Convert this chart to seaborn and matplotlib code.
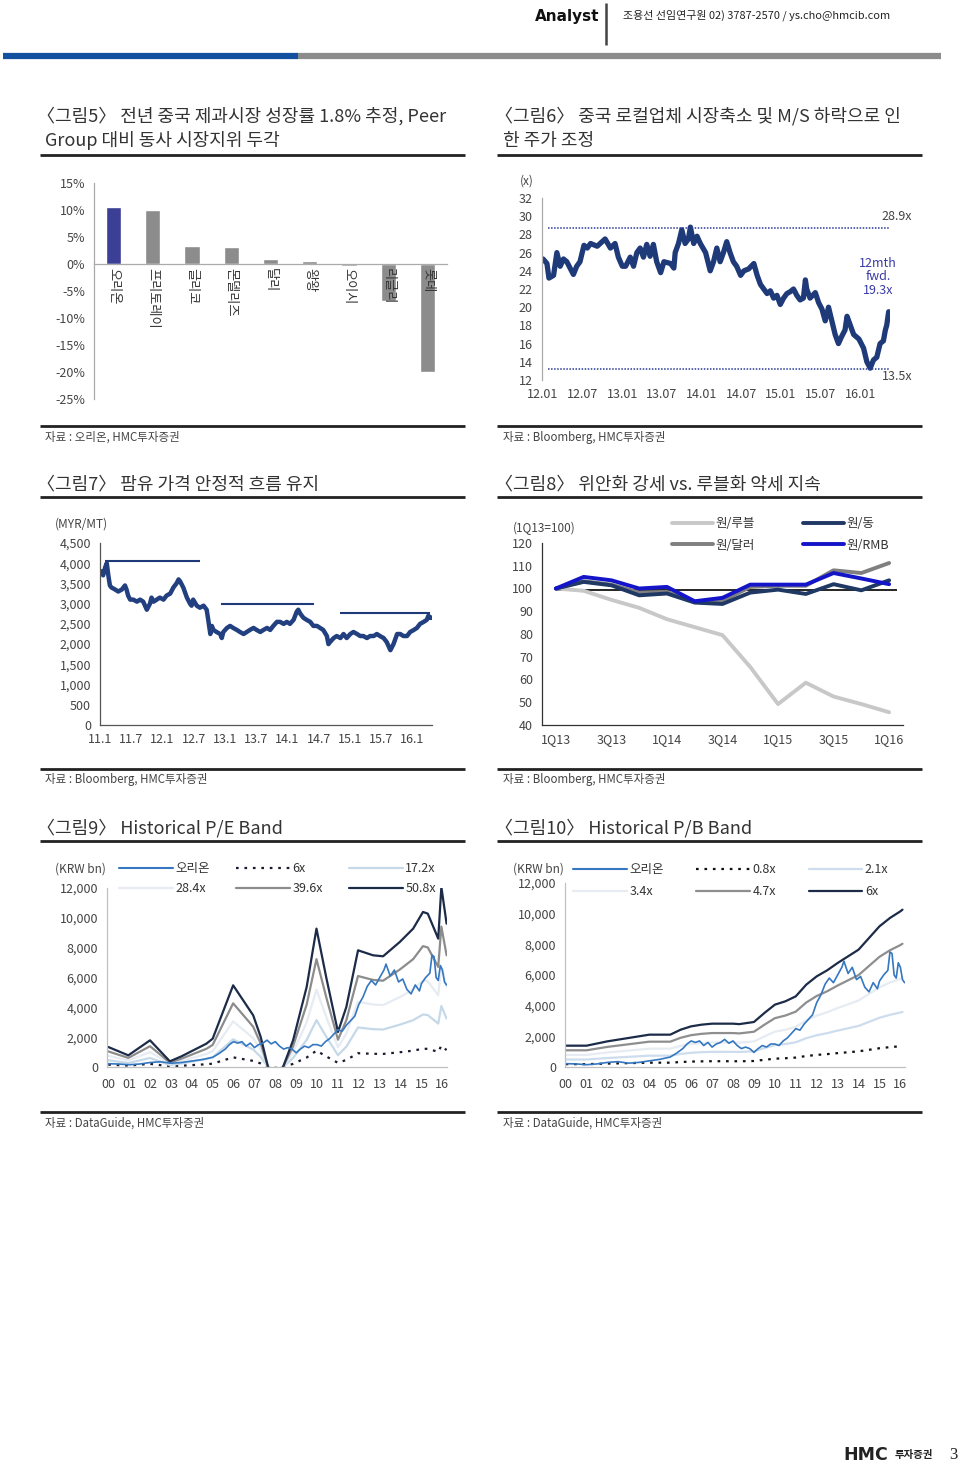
import numpy as np
import pandas as pd
import matplotlib
matplotlib.use('Agg')
import matplotlib.pyplot as plt
from matplotlib.lines import Line2D
import seaborn as sns

# ---------------- data ----------------
# Fig 5: peer growth
peer_names = ['오리온', '프리토레이', '글리코', '몬델리즈', '달리', '왕왕', '오이시', '리글리', '롯데']
peer_growth = [10.5, 10.0, 3.3, 3.1, 0.9, 0.5, -0.3, -6.9, -20.0]
peer_colors = ['#3c3f96', '#8c8c8c', '#8c8c8c', '#8c8c8c', '#8c8c8c', '#8c8c8c', '#8c8c8c', '#8c8c8c', '#8c8c8c']

# Fig 6: 12mth fwd P/E (months since 2012.01)
pe_month = [0.0, 0.6, 0.9, 1.6, 2.1, 2.6, 3.1, 3.6, 4.1, 4.6,
            5.1, 5.6, 6.2, 6.7, 7.2, 8.2, 9.4, 10.2, 10.9, 11.4,
            12.0, 12.5, 13.2, 13.7, 14.2, 14.7, 15.2, 15.7, 16.2, 16.7,
            17.2, 17.8, 18.3, 19.3, 19.8, 20.0, 20.5, 21.0, 21.5, 22.0,
            22.3, 22.8, 23.3, 23.8, 24.6, 25.3, 25.8, 26.3, 26.8, 27.3,
            27.8, 28.3, 28.8, 29.3, 29.9, 30.4, 31.1, 31.9, 32.4, 32.9,
            33.4, 33.9, 34.4, 34.9, 35.4, 35.9, 36.4, 36.9, 37.4, 37.9,
            38.4, 38.9, 39.4, 39.7, 39.9, 40.4, 41.2, 41.7, 42.2, 42.7,
            43.2, 43.7, 44.2, 44.7, 45.2, 45.7, 46.0, 46.5, 47.0, 47.8,
            48.5, 49.0, 49.5, 50.0, 50.5, 51.0, 51.5, 51.8, 52.0, 52.3]
pe_value = [25.3, 24.8, 23.2, 23.5, 26.0, 24.5, 25.3, 25.0, 24.3, 23.6,
            24.5, 25.0, 26.8, 26.5, 27.0, 26.7, 27.5, 26.5, 27.0, 25.5,
            24.5, 24.5, 25.5, 24.5, 26.0, 26.5, 25.5, 26.9, 25.6, 26.9,
            25.0, 23.8, 25.0, 24.8, 24.3, 26.0, 27.0, 28.5, 27.0, 27.5,
            28.8, 27.0, 27.8, 27.0, 26.0, 24.0, 25.0, 26.5, 25.0, 26.0,
            27.2, 26.0, 25.0, 24.5, 23.5, 24.0, 24.2, 24.8, 23.5, 22.5,
            22.0, 21.5, 21.8, 21.0, 21.3, 20.3, 21.0, 21.5, 21.7, 22.0,
            21.3, 20.8, 21.0, 23.0, 22.0, 21.0, 21.6, 20.5, 19.8, 18.5,
            20.0, 18.5, 17.0, 16.0, 16.8, 17.5, 19.0, 18.0, 17.0, 16.5,
            15.5, 14.0, 13.3, 14.2, 14.5, 16.0, 16.3, 17.5, 18.0, 19.5]
pe_band_levels = [28.7, 13.2]
pe_ticks = ['12.01', '12.07', '13.01', '13.07', '14.01', '14.07', '15.01', '15.07', '16.01']

# Fig 7: palm oil price (months since 2011.1)
palm_month = [0, 0.3, 0.6, 1.0, 1.3, 1.6, 1.9, 2.2, 2.9, 3.5,
              4.2, 4.8, 5.1, 5.4, 5.8, 6.4, 7.1, 7.7, 8.3, 9.0,
              9.6, 9.9, 10.3, 10.9, 11.5, 12.2, 12.8, 13.5, 14.1, 14.7,
              15.1, 15.4, 16.0, 16.7, 17.3, 17.6, 17.9, 18.6, 19.2, 19.9,
              20.5, 20.8, 21.2, 21.5, 21.8, 22.4, 23.1, 23.4, 23.7, 24.4,
              25.0, 25.6, 26.3, 26.9, 27.6, 28.2, 28.8, 29.5, 30.1, 30.8,
              31.4, 32.1, 32.7, 33.3, 34.0, 34.6, 35.3, 35.9, 36.5, 37.2,
              37.8, 38.1, 38.5, 39.1, 39.7, 40.4, 41.0, 41.7, 42.3, 42.9,
              43.6, 43.9, 44.2, 44.9, 45.5, 46.2, 46.8, 47.4, 48.1, 48.7,
              49.4, 50.0, 50.6, 51.3, 51.9, 52.6, 53.2, 53.8, 54.5, 55.1,
              55.8, 56.4, 57.1, 57.7, 58.3, 59.0, 59.6, 60.3, 60.9, 61.5,
              62.2, 62.8, 63.1, 63.5, 63.8]
palm_price = [3750, 3800, 3700, 3900, 4000, 3700, 3450, 3400, 3350, 3300,
              3350, 3450, 3350, 3200, 3100, 3100, 3050, 3100, 3050, 2850,
              3000, 3150, 3050, 3100, 3150, 3100, 3200, 3250, 3400, 3500,
              3600, 3550, 3400, 3150, 3000, 2950, 3100, 2950, 2900, 2950,
              2850, 2600, 2250, 2450, 2350, 2300, 2250, 2150, 2300, 2400,
              2450, 2400, 2350, 2300, 2250, 2300, 2350, 2400, 2350, 2300,
              2350, 2400, 2350, 2450, 2550, 2550, 2500, 2550, 2500, 2600,
              2800, 2850, 2750, 2650, 2600, 2550, 2450, 2450, 2400, 2350,
              2200, 2000, 2050, 2150, 2200, 2150, 2250, 2150, 2250, 2300,
              2250, 2200, 2200, 2150, 2200, 2200, 2250, 2200, 2150, 2050,
              1850, 2000, 2250, 2250, 2200, 2200, 2300, 2350, 2400, 2500,
              2550, 2600, 2700, 2650, 2650]
palm_range_start = [1.0, 23.3, 46.2]
palm_range_end = [19.2, 41.2, 63.5]
palm_range_level = [4050, 3000, 2770]
palm_ticks = ['11.1', '11.7', '12.1', '12.7', '13.1', '13.7', '14.1', '14.7', '15.1', '15.7', '16.1']

# Fig 8: FX index (1Q13=100)
fx_quarters = ['1Q13', '2Q13', '3Q13', '4Q13', '1Q14', '2Q14', '3Q14', '4Q14', '1Q15', '2Q15', '3Q15', '4Q15', '1Q16']
fx_rub = [100, 99, 95, 91.5, 86.5, 83, 79.5, 65.5, 49.2, 58.6, 52.5, 49.2, 45.6]
fx_usd = [100, 103.2, 101.7, 98.2, 98.5, 94.3, 94.5, 100.7, 101.2, 101.2, 108, 106.8, 111.2]
fx_vnd = [100, 102.9, 101.4, 97.0, 97.8, 93.8, 93.2, 98.2, 99.5, 97.6, 101.9, 99.2, 103.6]
fx_rmb = [100, 105.1, 103.6, 100.0, 100.7, 94.4, 95.9, 101.7, 101.7, 101.7, 106.8, 104.4, 101.9]
fx_base = 99.3

# Fig 9/10: Orion market cap (KRW bn)
orion_year = [2000.0, 2000.5, 2001.0, 2001.5, 2002.0, 2002.5, 2003.0, 2003.5, 2004.0, 2004.5,
              2005.0, 2005.3, 2005.6, 2005.8, 2006.0, 2006.2, 2006.4, 2006.6, 2006.8, 2007.0,
              2007.2, 2007.4, 2007.6, 2007.8, 2008.0, 2008.2, 2008.4, 2008.6, 2008.8, 2009.0,
              2009.2, 2009.4, 2009.6, 2009.8, 2010.0, 2010.2, 2010.4, 2010.6, 2010.8, 2011.0,
              2011.2, 2011.4, 2011.6, 2011.8, 2012.0, 2012.2, 2012.4, 2012.6, 2012.8, 2013.0,
              2013.2, 2013.3, 2013.5, 2013.7, 2013.9, 2014.1, 2014.3, 2014.5, 2014.7, 2014.9,
              2015.0, 2015.2, 2015.4, 2015.5, 2015.6, 2015.7, 2015.8, 2015.9, 2016.0, 2016.1, 2016.2]
orion_mcap = [220, 200, 150, 200, 300, 350, 250, 300, 400, 500,
              650, 900, 1200, 1500, 1700, 1600, 1700, 1400, 1600, 1300,
              1500, 1600, 1800, 1550, 1700, 1400, 1200, 1300, 1200, 950,
              1200, 1400, 1300, 1500, 1500, 1400, 1700, 1900, 2200, 2500,
              2400, 2800, 3100, 3400, 4200, 4700, 5400, 5800, 5500, 6000,
              6500, 6900, 6100, 6500, 5700, 5900, 5200, 4900, 5500, 5100,
              5600, 6000, 6300, 7500, 7400, 6000, 5800, 6800, 6500, 5700, 5500]

# P/E band: trailing earnings (KRW bn) x multiple
pe_year = [2000.0, 2000.96, 2002.0, 2002.95, 2003.5, 2004.07, 2004.7, 2005.0, 2005.98, 2006.94,
           2007.3, 2007.65, 2008.0, 2008.37, 2008.85, 2009.5, 2009.97, 2010.45, 2011.0, 2011.4,
           2011.96, 2012.68, 2013.16, 2013.96, 2014.6, 2015.07, 2015.3, 2015.8, 2015.95, 2016.2]
pe_earn = [26.4, 15.4, 35.2, 7.5, 14.0, 22.0, 30.8, 37.4, 107.8, 68.2,
           39.6, 0.0, -10.0, 0.0, 35.2, 105.6, 182.6, 116.6, 46.2, 79.2,
           154.0, 147.4, 146.1, 165.0, 182.6, 204.6, 202.4, 169.4, 237.6, 189.2]
pe_multiples = ['6x', '17.2x', '28.4x', '39.6x', '50.8x']
pe_mult_values = [6, 17.2, 28.4, 39.6, 50.8]

# P/B band: book value (KRW bn) x multiple
pb_year = [2000.0, 2001.0, 2002.0, 2003.0, 2004.0, 2005.0, 2005.5, 2006.0, 2006.5, 2007.0,
           2008.0, 2008.3, 2009.0, 2009.5, 2010.0, 2010.5, 2011.0, 2011.5, 2012.0, 2012.5,
           2013.0, 2013.5, 2014.0, 2014.5, 2015.0, 2015.5, 2016.0, 2016.1]
pb_book = [231.8, 231.8, 279.0, 315.2, 351.5, 351.5, 405.8, 442.0, 460.2, 471.0,
           471.0, 466.0, 489.2, 587.0, 677.5, 713.8, 768.2, 895.0, 985.5, 1050.8,
           1130.5, 1203.0, 1275.3, 1402.2, 1529.0, 1619.7, 1692.2, 1710.2]
pb_multiples = ['0.8x', '2.1x', '3.4x', '4.7x', '6x']
pb_mult_values = [0.8, 2.1, 3.4, 4.7, 6.0]
year_ticks = ['00', '01', '02', '03', '04', '05', '06', '07', '08', '09', '10', '11', '12', '13', '14', '15', '16']

# ---------------- setup ----------------
sns.set_style('white')
plt.rcParams['font.family'] = ['Noto Sans CJK KR', 'DejaVu Sans']
plt.rcParams['axes.unicode_minus'] = False

W, H = 960, 1467
fig = plt.figure(figsize=(9.6, 14.67), dpi=100)
TXT = '#333333'
LBL = '#444444'


def ax_at(x0, y0, x1, y1):
    return fig.add_axes([x0 / W, 1 - y1 / H, (x1 - x0) / W, (y1 - y0) / H])


def ftext(x, y, s, **kw):
    kw.setdefault('color', TXT)
    fig.text(x / W, 1 - y / H, s, **kw)


def fline(x0, x1, y0, y1, color, lw):
    fig.add_artist(Line2D([x0 / W, x1 / W], [1 - y0 / H, 1 - y1 / H], color=color, lw=lw,
                          transform=fig.transFigure, solid_capstyle='butt'))


def style(ax, spine='#999999'):
    for s in ['top', 'right']:
        ax.spines[s].set_visible(False)
    for s in ['left', 'bottom']:
        ax.spines[s].set_color(spine)
        ax.spines[s].set_linewidth(0.9)
    ax.tick_params(labelsize=9, color=spine, labelcolor=LBL, length=3, width=0.8)
    ax.set_facecolor('none')
    ax.set_xlabel('')
    ax.set_ylabel('')


# ---------------- header ----------------
ftext(567, 17, 'Analyst', ha='center', va='center', fontsize=11, fontweight='bold',
      family=['Liberation Sans Narrow', 'DejaVu Sans'], color='#111111')
fline(606, 606, 3, 45, '#444444', 1.8)
ftext(623, 15, '조용선 선임연구원 02) 3787-2570 / ys.cho@hmcib.com', ha='left', va='center',
      fontsize=7.9, color='#222222')
fline(3, 298, 56, 56, '#1450a0', 4.5)
fline(298, 941, 56, 56, '#8c8c8c', 4.5)

# ---------------- titles / separators ----------------
LX0, LX1, RX0, RX1 = 40, 465, 497, 922
TS = 13
TLX, TRX = 37, 495
ftext(TLX, 116, '〈그림5〉 전년 중국 제과시장 성장률 1.8% 추정, Peer', ha='left', va='center', fontsize=TS)
ftext(45, 141, 'Group 대비 동사 시장지위 두각', ha='left', va='center', fontsize=TS)
ftext(TRX, 116, '〈그림6〉 중국 로컬업체 시장축소 및 M/S 하락으로 인', ha='left', va='center', fontsize=TS)
ftext(503, 141, '한 주가 조정', ha='left', va='center', fontsize=TS)
ftext(TLX, 484, '〈그림7〉 팜유 가격 안정적 흐름 유지', ha='left', va='center', fontsize=TS)
ftext(TRX, 484, '〈그림8〉 위안화 강세 vs. 루블화 약세 지속', ha='left', va='center', fontsize=TS)
ftext(TLX, 828, '〈그림9〉 Historical P/E Band', ha='left', va='center', fontsize=TS)
ftext(TRX, 828, '〈그림10〉 Historical P/B Band', ha='left', va='center', fontsize=TS)
for y in [155, 497, 841]:
    fline(LX0, LX1, y, y, '#222222', 2.0)
    fline(RX0, RX1, y, y, '#222222', 2.0)
for y in [426, 769, 1112]:
    fline(LX0, LX1, y, y, '#222222', 2.0)
    fline(RX0, RX1, y, y, '#222222', 2.0)
SS = 8.3
ftext(45, 437, '자료 : 오리온, HMC투자증권', ha='left', va='center', fontsize=SS, color=LBL)
ftext(503, 437, '자료 : Bloomberg, HMC투자증권', ha='left', va='center', fontsize=SS, color=LBL)
ftext(45, 780, '자료 : Bloomberg, HMC투자증권', ha='left', va='center', fontsize=SS, color=LBL)
ftext(503, 780, '자료 : Bloomberg, HMC투자증권', ha='left', va='center', fontsize=SS, color=LBL)
ftext(45, 1123, '자료 : DataGuide, HMC투자증권', ha='left', va='center', fontsize=SS, color=LBL)
ftext(503, 1123, '자료 : DataGuide, HMC투자증권', ha='left', va='center', fontsize=SS, color=LBL)

# ---------------- Fig 5 ----------------
ax5 = ax_at(94, 183, 447, 399)
df5 = pd.DataFrame({'company': peer_names, 'growth': peer_growth})
sns.barplot(data=df5, x='company', y='growth', hue='company', palette=peer_colors, legend=False,
            width=0.39, saturation=1, ax=ax5)
style(ax5, '#aaaaaa')
ax5.set_xlim(-0.5, 8.5)
ax5.set_ylim(-25, 15)
yt = list(range(-25, 16, 5))
ax5.set_yticks(yt)
ax5.set_yticklabels([f'{v}%' for v in yt])
ax5.spines['bottom'].set_position(('data', 0))
ax5.set_xticks(np.arange(0.5, 9, 1))
ax5.set_xticklabels([])
ax5.tick_params(axis='x', direction='out', length=4)
for i, n in enumerate(peer_names):
    ax5.text(i, -0.7, n, rotation=270, ha='center', va='top', fontsize=9.5, color=TXT)

# ---------------- Fig 6 ----------------
ax6 = ax_at(542, 198, 890, 380)
sns.lineplot(x=pe_month, y=pe_value, color='#1f3a78', lw=3.8, ax=ax6)
style(ax6, '#aaaaaa')
ax6.hlines(pe_band_levels, 0.8, 52.3, colors='#2a3a98', linestyles=(0, (1, 1)), lw=1.1)
ax6.set_xlim(-0.15, 52.5)
ax6.set_ylim(12, 32)
ax6.set_yticks(range(12, 33, 2))
ax6.set_xticks(range(0, 49, 6))
ax6.set_xticklabels(pe_ticks)
ax6.spines['bottom'].set_visible(False)
ax6.tick_params(axis='x', length=0, pad=6)
ftext(527, 181, '(x)', ha='center', va='center', fontsize=8.5, color=LBL)
ftext(897, 217, '28.9x', ha='center', va='center', fontsize=9, color=LBL)
ftext(897, 376, '13.5x', ha='center', va='center', fontsize=9, color=LBL)
ftext(878, 277, '12mth\nfwd.\n19.3x', ha='center', va='center', fontsize=9, color='#3a3aa8',
      linespacing=1.05, multialignment='center')

# ---------------- Fig 7 ----------------
ax7 = ax_at(100, 543, 432, 725)
sns.lineplot(x=palm_month, y=palm_price, color='#22407f', lw=3.2, ax=ax7)
style(ax7, '#555555')
for m0, m1, v in zip(palm_range_start, palm_range_end, palm_range_level):
    ax7.hlines(v, m0, m1, colors='#1f3a78', lw=1.5)
ax7.set_xlim(0, 63.8)
ax7.set_ylim(0, 4500)
ax7.set_yticks(range(0, 4501, 500))
ax7.set_yticklabels([f'{v:,}' for v in range(0, 4501, 500)])
ax7.set_xticks(range(0, 61, 6))
ax7.set_xticklabels(palm_ticks)
ax7.tick_params(axis='x', direction='inout', length=4)
ftext(55, 524, '(MYR/MT)', ha='left', va='center', fontsize=8.5, color=LBL)

# ---------------- Fig 8 ----------------
ax8 = ax_at(542, 543, 903, 725)
fx_series = {'원/루블': fx_rub, '원/달러': fx_usd, '원/동': fx_vnd, '원/RMB': fx_rmb}
fx_colors = {'원/루블': '#c8c8c8', '원/달러': '#7f7f7f', '원/동': '#1f3864', '원/RMB': '#1414c8'}
df8 = pd.DataFrame([(i, k, v) for k, vals in fx_series.items() for i, v in enumerate(vals)],
                   columns=['q', 'series', 'value'])
ax8.hlines(fx_base, 0, 12.3, colors='black', lw=1.2, zorder=1.5)
sns.lineplot(data=df8, x='q', y='value', hue='series', palette=fx_colors, lw=2.8, legend=False, ax=ax8)
style(ax8, '#333333')
ax8.set_xlim(-0.5, 12.5)
ax8.set_ylim(40, 120)
ax8.set_yticks(range(40, 121, 10))
ax8.set_xticks(range(0, 13, 2))
ax8.set_xticklabels(fx_quarters[::2])
ax8.set_xticks(np.arange(0.5, 13, 1), minor=True)
ax8.tick_params(axis='x', which='major', length=0, pad=6)
ax8.tick_params(axis='x', which='minor', direction='in', length=4, color='#333333')
h8 = [Line2D([], [], color=fx_colors[k], lw=2.8) for k in ['원/루블', '원/달러', '원/동', '원/RMB']]
ax8.legend(h8, ['원/루블', '원/달러', '원/동', '원/RMB'], ncol=2, loc='upper left',
           bbox_to_anchor=(672 / W, 1 - 517 / H), bbox_transform=fig.transFigure, frameon=False,
           fontsize=9, handlelength=3.3, handletextpad=0.2, columnspacing=3.8, labelspacing=0.7,
           borderaxespad=0, borderpad=0, labelcolor=TXT)
ftext(513, 528, '(1Q13=100)', ha='left', va='center', fontsize=8.5, color=LBL)

# ---------------- Fig 9 ----------------
pe_colors = {'6x': '#1a1a30', '17.2x': '#c5d9e8', '28.4x': '#e6ecf2', '39.6x': '#8c8c8c', '50.8x': '#1c2b48'}
ax9 = ax_at(107, 888, 447, 1067)
for name, m in zip(pe_multiples, pe_mult_values):
    ls = (0, (1.2, 2.6)) if name == '6x' else '-'
    sns.lineplot(x=pe_year, y=[e * m for e in pe_earn], color=pe_colors[name], lw=1.6,
                 linestyle=ls, ax=ax9)
sns.lineplot(x=orion_year, y=orion_mcap, color='#3577c0', lw=1.2, ax=ax9)
style(ax9, '#c0c0c0')
ax9.set_xlim(1999.94, 2016.22)
ax9.set_ylim(0, 12000)
ax9.set_yticks(range(0, 12001, 2000))
ax9.set_yticklabels([f'{v:,}' for v in range(0, 12001, 2000)])
ax9.set_xticks(range(2000, 2017))
ax9.set_xticklabels(year_ticks)
ax9.tick_params(axis='x', length=0, pad=8)
order9 = ['오리온', '28.4x', '6x', '39.6x', '17.2x', '50.8x']
def handle9(k):
    if k == '오리온':
        return Line2D([], [], color='#3577c0', lw=1.5)
    if k == '6x':
        return Line2D([], [], color=pe_colors[k], lw=1.6, linestyle=(0, (1.2, 2.6)))
    return Line2D([], [], color=pe_colors[k], lw=1.6)
ax9.legend([handle9(k) for k in order9], order9, ncol=3, loc='upper left',
           bbox_to_anchor=(119 / W, 1 - 862 / H), bbox_transform=fig.transFigure, frameon=False,
           fontsize=9, handlelength=4.3, handletextpad=0.2, columnspacing=2.1, labelspacing=0.55,
           borderaxespad=0, borderpad=0, labelcolor=TXT)
ftext(55, 869, '(KRW bn)', ha='left', va='center', fontsize=8.5, color=LBL)

# ---------------- Fig 10 ----------------
pb_colors = {'0.8x': '#111111', '2.1x': '#cddded', '3.4x': '#e6ecf2', '4.7x': '#8e8e8e', '6x': '#1c2b48'}
ax10 = ax_at(565, 883, 905, 1067)
for name, m in zip(pb_multiples, pb_mult_values):
    ls = (0, (1.2, 2.6)) if name == '0.8x' else '-'
    sns.lineplot(x=pb_year, y=[b * m for b in pb_book], color=pb_colors[name], lw=1.6,
                 linestyle=ls, ax=ax10)
sns.lineplot(x=orion_year, y=orion_mcap, color='#3577c0', lw=1.2, ax=ax10)
style(ax10, '#c0c0c0')
ax10.set_xlim(1999.97, 2016.22)
ax10.set_ylim(0, 12000)
ax10.set_yticks(range(0, 12001, 2000))
ax10.set_yticklabels([f'{v:,}' for v in range(0, 12001, 2000)])
ax10.set_xticks(range(2000, 2017))
ax10.set_xticklabels(year_ticks)
ax10.tick_params(axis='x', length=0, pad=8)
order10 = ['오리온', '3.4x', '0.8x', '4.7x', '2.1x', '6x']
def handle10(k):
    if k == '오리온':
        return Line2D([], [], color='#3577c0', lw=1.5)
    if k == '0.8x':
        return Line2D([], [], color=pb_colors[k], lw=1.6, linestyle=(0, (1.2, 2.6)))
    return Line2D([], [], color=pb_colors[k], lw=1.6)
ax10.legend([handle10(k) for k in order10], order10, ncol=3, loc='upper left',
            bbox_to_anchor=(573 / W, 1 - 863 / H), bbox_transform=fig.transFigure, frameon=False,
            fontsize=9, handlelength=4.3, handletextpad=0.2, columnspacing=2.6, labelspacing=0.75,
            borderaxespad=0, borderpad=0, labelcolor=TXT)
ftext(513, 869, '(KRW bn)', ha='left', va='center', fontsize=8.5, color=LBL)

# ---------------- footer ----------------
ftext(866, 1455, 'HMC', ha='center', va='center', fontsize=12.5, fontweight='bold',
      family=['DejaVu Sans'], color='#222222')
ftext(914, 1455, '투자증권', ha='center', va='center', fontsize=7.5, fontweight='bold', color='#222222')
ftext(953, 1455, '3', ha='center', va='center', fontsize=12, family=['Liberation Serif'], color='#222222')

fig.savefig('out.png', dpi=100)
